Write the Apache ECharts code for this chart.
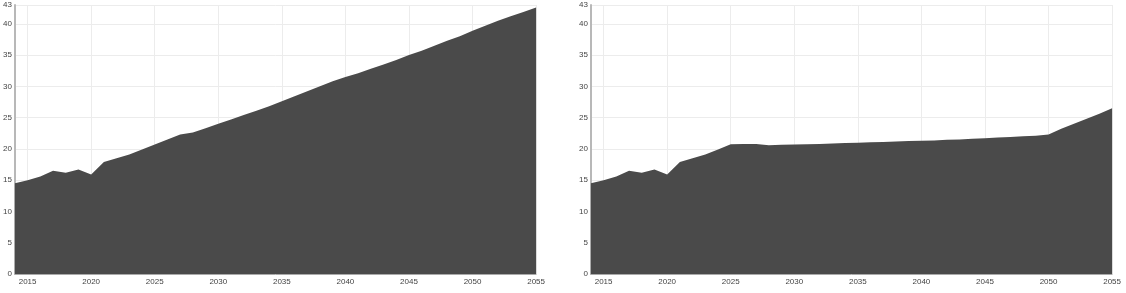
<!DOCTYPE html>
<html>
<head>
<meta charset="utf-8">
<script src="https://cdn.jsdelivr.net/npm/echarts@6/dist/echarts.min.js"></script>
<style>
html,body{margin:0;padding:0;background:#fff;width:1126px;height:293px;overflow:hidden;}
#c1{position:absolute;left:0;top:0;width:548px;height:293px;}
#c2{position:absolute;left:576px;top:0;width:548px;height:293px;}
</style>
</head>
<body>
<div id="c1"></div>
<div id="c2"></div>
<script>
const years = [2014,2015,2016,2017,2018,2019,2020,2021,2022,2023,2024,2025,2026,2027,2028,2029,2030,2031,2032,2033,2034,2035,2036,2037,2038,2039,2040,2041,2042,2043,2044,2045,2046,2047,2048,2049,2050,2051,2052,2053,2054,2055];
const leftValues = [14.5,15.0,15.6,16.5,16.2,16.7,15.9,17.9,18.5,19.1,19.9,20.7,21.5,22.3,22.6,23.3,24.0,24.7,25.4,26.1,26.8,27.6,28.4,29.2,30.0,30.8,31.5,32.1,32.8,33.5,34.2,35.0,35.7,36.5,37.3,38.0,38.9,39.7,40.5,41.2,41.9,42.6];
const rightValues = [14.5,15.0,15.6,16.5,16.2,16.7,15.9,17.9,18.5,19.1,19.9,20.75,20.8,20.8,20.6,20.65,20.7,20.75,20.8,20.85,20.95,21.0,21.05,21.1,21.2,21.25,21.3,21.35,21.45,21.5,21.6,21.7,21.8,21.9,22.0,22.1,22.3,23.2,24.0,24.8,25.6,26.5];
const xTicks = [2015,2020,2025,2030,2035,2040,2045,2050,2055];
const xMin = 2014, xMax = 2055, yMin = 0, yMax = 43;

function makeOption(values){
  return {
    animation:false,
    grid:{left:11.5,right:10,top:5,bottom:19,containLabel:false},
    xAxis:{
      type:'value', min:xMin, max:xMax,
      axisLine:{show:true,lineStyle:{color:'#aaaaaa',width:1}},
      axisTick:{show:false, customValues:xTicks},
      axisLabel:{fontSize:8,color:'#444',margin:4,fontFamily:'Liberation Sans, Arial, sans-serif',
        customValues:xTicks, formatter:v=>String(v)},
      splitLine:{show:false}
    },
    yAxis:{
      type:'value', min:yMin, max:yMax, interval:5,
      axisLine:{show:true,lineStyle:{color:'#b8b8b8',width:2}},
      axisTick:{show:false},
      axisLabel:{fontSize:8,color:'#444',margin:3,fontFamily:'Liberation Sans, Arial, sans-serif'},
      splitLine:{show:true,lineStyle:{color:'#ececec',width:1}}
    },
    series:[{
      type:'line',
      data:years.map((y,i)=>[y,values[i]]),
      symbol:'none',
      lineStyle:{width:0,color:'#4a4a4a'},
      areaStyle:{color:'#4a4a4a',opacity:1},
      itemStyle:{color:'#4a4a4a'},
      markLine:{
        silent:true, symbol:'none', label:{show:false}, z:1,
        lineStyle:{color:'#ececec',width:1,type:'solid'},
        data:xTicks.map(t=>({xAxis:t}))
      }
    }]
  };
}
const ch1 = echarts.init(document.getElementById('c1'));
ch1.setOption(makeOption(leftValues));
const ch2 = echarts.init(document.getElementById('c2'));
ch2.setOption(makeOption(rightValues));
</script>
</body>
</html>
